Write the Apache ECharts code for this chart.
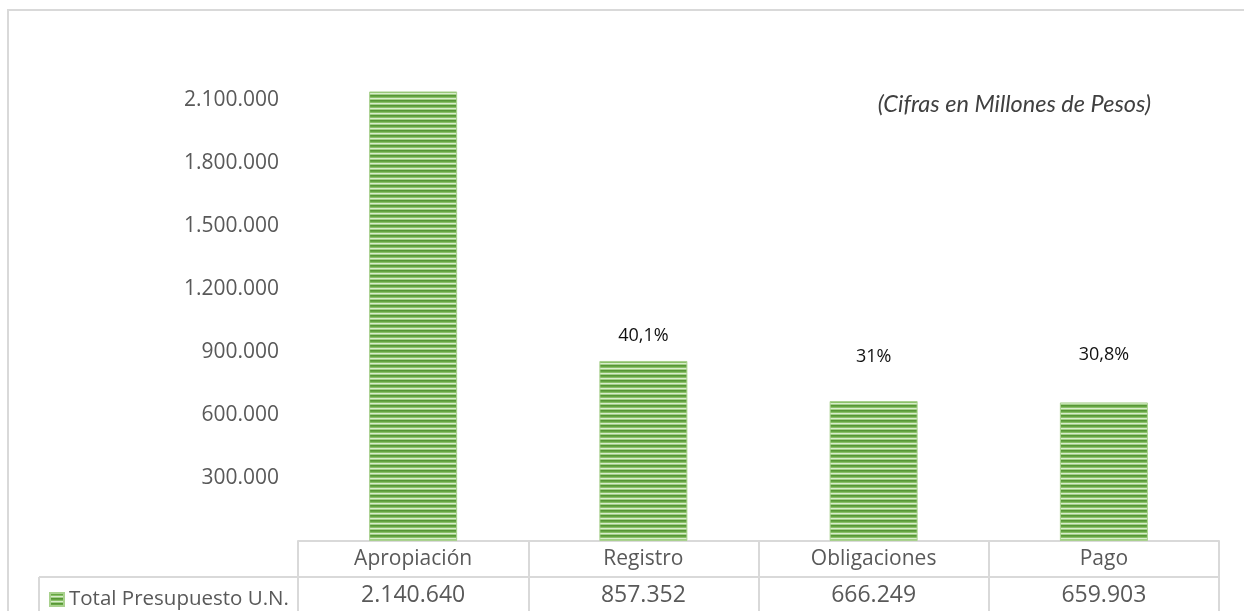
<!DOCTYPE html>
<html>
<head>
<meta charset="utf-8">
<script src="https://cdn.jsdelivr.net/npm/echarts@6/dist/echarts.min.js"></script>
<style>
html,body{margin:0;padding:0;background:#fff;overflow:hidden;}
#chart{width:1244px;height:611px;}
</style>
</head>
<body>
<div id="chart"></div>
<script>
// ---- data ----
const categories = ['Apropiación', 'Registro', 'Obligaciones', 'Pago'];
const values = [2140640, 857352, 666249, 659903];
const pctLabels = ['', '40,1%', '31%', '30,8%'];
const seriesName = 'Total Presupuesto U.N.';
const yTicks = { min: 0, max: 2400000, interval: 300000 };
const note = '(Cifras en Millones de Pesos)';

// ---- helpers ----
function fmt(v) { return String(v).replace(/\B(?=(\d{3})+(?!\d))/g, '.'); }

// striped pattern
const pc = document.createElement('canvas');
pc.width = 4; pc.height = 5;
const pctx = pc.getContext('2d');
['#579636', '#66a643', '#8ac069', '#d9edcc', '#a2cf87'].forEach((c, i) => {
  pctx.fillStyle = c; pctx.fillRect(0, i, 4, 1);
});
const stripe = { image: pc, repeat: 'repeat' };

const labelDist = [5, 16, 35, 39];
const gridLine = '#d9d9d9';

const chart = echarts.init(document.getElementById('chart'));
const option = {
  animation: false,
  color: [stripe],
  textStyle: { fontFamily: 'Open Sans' },
  title: {
    text: note,
    right: 88, top: 88,
    textStyle: { fontFamily: 'Lato', fontStyle: 'italic', fontWeight: 'normal', fontSize: 23.5, color: '#404040' }
  },
  legend: {
    left: 44, top: 584,
    icon: 'rect', itemWidth: 14, itemHeight: 13, itemGap: 6,
    textStyle: { fontSize: 20.5, color: '#595959', fontFamily: 'Open Sans' },
    data: [seriesName]
  },
  grid: { left: 298, right: 25, top: 37, bottom: 70 },
  xAxis: {
    type: 'category',
    data: categories,
    axisLine: { lineStyle: { color: gridLine, width: 2 } },
    axisTick: { show: true, length: 70, interval: 0, lineStyle: { color: gridLine, width: 2 } },
    axisLabel: {
      interval: 0, margin: 0,
      formatter: (v, i) => '{a|' + v + '}\n{b|' + fmt(values[i]) + '}',
      rich: {
        a: { fontSize: 21, color: '#595959', lineHeight: 36, fontFamily: 'Open Sans' },
        b: { fontSize: 23, color: '#595959', lineHeight: 36, fontFamily: 'Open Sans' }
      }
    }
  },
  yAxis: {
    type: 'value',
    min: yTicks.min, max: yTicks.max, interval: yTicks.interval,
    splitLine: { show: false },
    axisLine: { show: false },
    axisTick: { show: false },
    axisLabel: {
      showMinLabel: false, showMaxLabel: false,
      margin: 19, fontSize: 21, color: '#595959',
      formatter: v => fmt(v)
    }
  },
  series: [{
    name: seriesName,
    type: 'bar',
    barWidth: 88,
    itemStyle: { color: stripe, borderColor: '#a9d18e', borderWidth: 1 },
    data: values.map((v, i) => ({
      value: v,
      label: {
        show: pctLabels[i] !== '',
        position: 'top',
        distance: labelDist[i],
        formatter: () => pctLabels[i],
        fontSize: 18, color: '#111', fontFamily: 'Open Sans'
      }
    }))
  }],
  graphic: [
    { type: 'line', shape: { x1: 7, y1: 10, x2: 1244, y2: 10 }, style: { stroke: gridLine, lineWidth: 2 }, silent: true },
    { type: 'line', shape: { x1: 8, y1: 9, x2: 8, y2: 611 }, style: { stroke: gridLine, lineWidth: 2 }, silent: true },
    { type: 'line', shape: { x1: 39, y1: 577, x2: 1219, y2: 577 }, style: { stroke: gridLine, lineWidth: 2 }, silent: true },
    { type: 'line', shape: { x1: 39, y1: 577, x2: 39, y2: 611 }, style: { stroke: gridLine, lineWidth: 2 }, silent: true }
  ]
};
chart.setOption(option);
</script>
</body>
</html>
